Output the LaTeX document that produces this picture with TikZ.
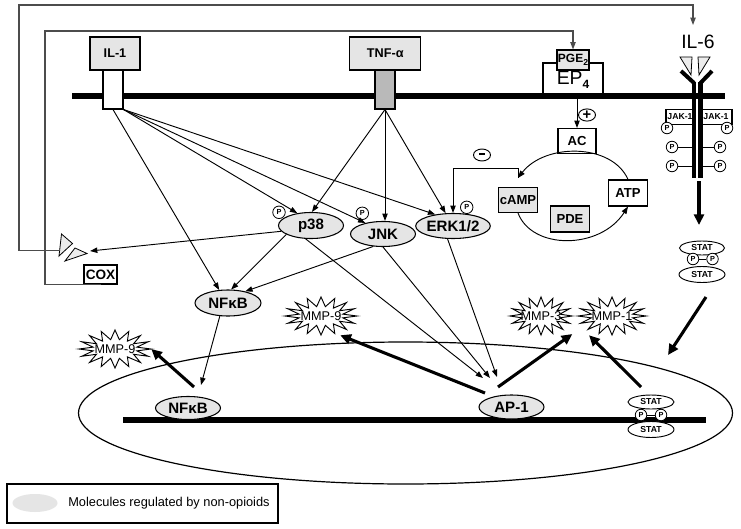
\documentclass[tikz,border=0pt]{standalone}
\usepackage{fontspec}
\setmainfont{Liberation Sans}
\usetikzlibrary{shapes.geometric,arrows.meta,calc}
\newcommand\pxu{0.75pt}
\newcommand\fsz[1]{\fontsize{#1}{#1}\selectfont}
\newcommand\burst[4]{%
  \draw[line width=0.7pt] ({#1+#3},{#2})
    \foreach \k in {1,...,31}{ -- ({#1+(1-0.38*mod(\k,2))*#3*cos(\k*360/32)},{#2+(1-0.5*mod(\k,2))*#4*sin(\k*360/32)}) } -- cycle;}
\begin{document}
\begin{tikzpicture}[x=0.75pt,y=-0.75pt,
  thn/.style={line width=0.7pt,-{Triangle[length=5.5pt,width=4pt]}},
  thk/.style={line width=2.3pt,-{Triangle[length=8pt,width=7.5pt]}},
  fbk/.style={line width=0.8pt,draw=black!70},
  mol/.style={ellipse,draw,line width=0.8pt,fill=gray!20,inner sep=0pt,minimum width=65*\pxu,minimum height=25*\pxu,font=\bfseries\fsz{11.3}},
  gbox/.style={rectangle,draw,line width=0.8pt,fill=gray!20,inner sep=0pt,font=\bfseries\fsz{9.8}},
  wbox/.style={gbox,fill=white},
  pcir/.style={circle,draw,line width=0.6pt,fill=white,inner sep=0pt,minimum size=11.5*\pxu,font=\bfseries\fsz{5.5}},
  statel/.style={ellipse,draw,line width=0.7pt,fill=white,inner sep=0pt,minimum width=46*\pxu,minimum height=15*\pxu,font=\bfseries\fsz{6.5}},
  mmp/.style={inner sep=0pt,font=\fsz{9.5}},
  signel/.style={ellipse,draw,line width=0.7pt,fill=white,inner sep=0pt,minimum width=17*\pxu,minimum height=12*\pxu,font=\bfseries\fsz{11}}]
\useasboundingbox (0,0) rectangle (741,528);
\fill[white] (0,0) rectangle (741,528);

% membrane, nucleus, DNA
\draw[line width=3.8pt] (72,96) -- (725,96);
\draw[line width=0.9pt] (405.5,413) ellipse [x radius=327, y radius=71];
\draw[line width=3.8pt] (123,420) -- (706,420);

% receptors
\node[gbox,minimum width=50*\pxu,minimum height=33*\pxu,font=\bfseries\fsz{9.5}] (il1) at (115,53.5) {IL-1};
\node[draw,line width=0.8pt,fill=white,minimum width=20*\pxu,minimum height=39*\pxu,inner sep=0pt] (il1r) at (113,89.5) {};
\node[gbox,minimum width=71*\pxu,minimum height=33*\pxu,font=\bfseries\fsz{9.5}] (tnf) at (385.3,53.5) {TNF-α};
\node[draw,line width=0.8pt,fill=gray!55,minimum width=20*\pxu,minimum height=39*\pxu,inner sep=0pt] (tnfr) at (385,89.5) {};

\node[inner sep=0pt,minimum width=60*\pxu,minimum height=33*\pxu,font=\fsz{14.5}] (ep4) at (573,79.5) {\raisebox{-2pt}{EP\raisebox{-3pt}{\bfseries\fsz{9}4}}};
\draw[line width=1.5pt] (ep4.south west) -- (ep4.north west) -- (ep4.north east) -- (ep4.south east);
\node[gbox,minimum width=32*\pxu,minimum height=20*\pxu,font=\bfseries\fsz{9}] (pge) at (573,60) {PGE\raisebox{-2pt}{\fsz{6.5}2}};

% IL-6 receptor
\node[font=\fsz{14.5}] (il6) at (698,42) {IL-6};
\filldraw[fill=gray!15,line width=0.6pt] (680,57) -- (692,57) -- (691,75) -- cycle;
\filldraw[fill=gray!15,line width=0.6pt] (698,57) -- (710,57) -- (699,75) -- cycle;
\node[draw,line width=0.8pt,fill=white,minimum width=28*\pxu,minimum height=15*\pxu,inner sep=0pt,font=\bfseries\fsz{6.5}] (jakl) at (680,117) {JAK-1};
\node[draw,line width=0.8pt,fill=white,minimum width=32*\pxu,minimum height=15*\pxu,inner sep=0pt,font=\bfseries\fsz{6.5}] (jakr) at (716,117) {JAK-1};
\draw[line width=3pt] (681,71) -- (694,83) (712,71) -- (700.5,83);
\draw[line width=3.6pt] (694,82) -- (694,178) (700.5,82) -- (700.5,178);
\node[pcir] (pl1) at (667,128) {P};
\node[pcir] (pl2) at (672,147) {P};
\node[pcir] (pl3) at (672,166) {P};
\node[pcir] (pr1) at (727,128) {P};
\node[pcir] (pr2) at (720,147) {P};
\node[pcir] (pr3) at (720,166) {P};
\draw[line width=0.7pt] (pl2.east) -- (692,147) (pl3.east) -- (692,166) (pr2.west) -- (702,147) (pr3.west) -- (702,166);

% COX and its products
\node[wbox,minimum width=33*\pxu,minimum height=19*\pxu,font=\bfseries\fsz{10.2}] (cox) at (100.5,274.5) {COX};
\filldraw[fill=gray!15,line width=0.6pt] (61.5,234) -- (72.5,243.5) -- (59,256) -- cycle;
\filldraw[fill=gray!15,line width=0.6pt] (65,261) -- (75,248) -- (87,253.5) -- cycle;
\coordinate (tri) at (60,250.5);
\coordinate (tri2) at (90,251);
\coordinate (il6in) at (693,25);
\draw[fbk,-{Triangle[length=5.5pt,width=4pt]}] (tri) -| (19,5) -| (il6in);
\draw[fbk,-{Triangle[length=5.5pt,width=4pt]}] (cox.south) -| (45,31) -| (pge.north);

% cAMP cycle
\node[wbox,minimum width=38*\pxu,minimum height=25*\pxu] (ac) at (577,141) {AC};
\node[wbox,minimum width=39*\pxu,minimum height=26*\pxu] (atp) at (628,193) {ATP};
\node[gbox,minimum width=39*\pxu,minimum height=25*\pxu] (camp) at (518,200) {cAMP};
\coordinate (camptop) at ($(camp.north)+(0,-9)$);
\draw[thn] (ep4.south -| ac.north) -- (ac.north);
\node[signel] (plus) at (587,115) {+};
\draw[thn] (atp.north) .. controls (612,143) and (545,143) .. (camptop);
\draw[thn] (camp.south) .. controls (532,250) and (600,250) .. (atp.south);
\node[gbox,minimum width=39*\pxu,minimum height=26*\pxu] (pde) at (570,219) {PDE};
\node[signel] (minus) at (482,155) {\raisebox{1pt}{\rule{4pt}{1.6pt}}};

% kinases
\node[mol,minimum height=26*\pxu] (p38) at (311,225.5) {p38};
\node[mol] (jnk) at (383,234) {JNK};
\node[mol] (erk) at (453,226) {ERK1/2};
\node[mol,minimum width=66*\pxu,minimum height=26*\pxu] (nfc) at (228,303) {NFκB};
\node[pcir,minimum size=12.5*\pxu] (pp38) at (279,212.3) {P};
\node[pcir,minimum size=12.5*\pxu] (pjnk) at (362.3,213.3) {P};
\node[pcir,minimum size=12.5*\pxu] (perk) at (466.7,207.3) {P};
\draw[thn] (camptop) -- ++(0,-10) -| (erk.north);

% nucleus
\node[mol,minimum height=23*\pxu] (nfn) at (188,408) {NFκB};
\node[mol,minimum height=24*\pxu] (ap1) at (511.5,407) {AP-1};
\node[statel,minimum height=14*\pxu] (statn1) at (651,402) {STAT};
\node[statel,minimum height=16*\pxu] (statn2) at (651,429.5) {STAT};
\node[pcir] (pn1) at (641,415) {P};
\node[pcir] (pn2) at (661,415) {P};
\draw[line width=0.7pt] (pn1) -- (pn2);

% cytoplasmic STAT dimer
\node[statel,minimum width=45*\pxu,minimum height=14*\pxu] (statc1) at (702,248) {STAT};
\node[statel,minimum height=16*\pxu] (statc2) at (702,274.5) {STAT};
\node[pcir] (pc1) at (693,259) {P};
\node[pcir] (pc2) at (712.5,259) {P};
\draw[line width=0.7pt] (pc1) -- (pc2);

% MMPs
\burst{115}{349}{36}{19}
\burst{321}{316}{36}{19}
\burst{541}{316}{31}{19}
\burst{612}{316}{34}{19}
\node[mmp,minimum width=72*\pxu,minimum height=38*\pxu] (mmp9a) at (115,349) {MMP-9};
\node[mmp,minimum width=72*\pxu,minimum height=38*\pxu] (mmp9b) at (321,316) {MMP-9};
\node[mmp,minimum width=62*\pxu,minimum height=38*\pxu] (mmp3) at (541,316) {MMP-3};
\node[mmp,minimum width=68*\pxu,minimum height=38*\pxu] (mmp1) at (612,316) {MMP-1};

% thin signalling arrows
\draw[thn] (il1r.south) -- (nfc.124);
\draw[thn] (il1r.south east) -- (p38.138);
\draw[thn] (il1r.south east) -- (jnk.148);
\draw[thn] (il1r.south east) -- (erk.147);
\draw[thn] (tnfr.south) -- (p38.86);
\draw[thn] (tnfr.south) -- (tnfr.south |- jnk.north);
\draw[thn] (tnfr.south) -- (erk.120);
\draw[thn] (p38.191) -- (tri2);
\draw[thn] (p38.200) -- (nfc.77);
\coordinate (ap1a) at (483,378);
\coordinate (ap1b) at (490,378);
\coordinate (ap1c) at (497,377);
\draw[thn] (p38.248) -- (ap1a);
\draw[thn] (jnk.232) -- (nfc.34);
\draw[thn] (jnk.270) -- (ap1b);
\draw[thn] (erk.247) -- (ap1c);
\coordinate (nfnin) at (201,385);
\draw[thn] (nfc.238) -- (nfnin);

% thick arrows
\coordinate (nfnout) at (194,387);
\coordinate (ap1o1) at (485,393);
\coordinate (ap1o2) at (498,387);
\coordinate (statno) at (641,387);
\coordinate (statco) at (706,297);
\coordinate (nucin) at (668,355);
\coordinate (recout) at (699,181);
\coordinate (statin) at (699,225);
\draw[thk] (nfnout) -- (mmp9a.east);
\draw[thk] (ap1o1) -- (mmp9b.-45);
\draw[thk] (ap1o2) -- (mmp3.-30);
\draw[thk] (statno) -- (mmp1.-140);
\draw[thk] (statco) -- (nucin);
\draw[thk] (recout) -- (statin);

% legend
\node[draw,line width=0.8pt,minimum width=271*\pxu,minimum height=39*\pxu,inner sep=0pt] (leg) at (142.5,503.5) {};
\node[ellipse,fill=gray!20,minimum width=45*\pxu,minimum height=18*\pxu,inner sep=0pt] (legel) at (35,503) {};
\node[anchor=west,font=\fsz{9.6},inner sep=0pt] (legtx) at (68,503) {Molecules regulated by non-opioids};
\end{tikzpicture}
\end{document}
